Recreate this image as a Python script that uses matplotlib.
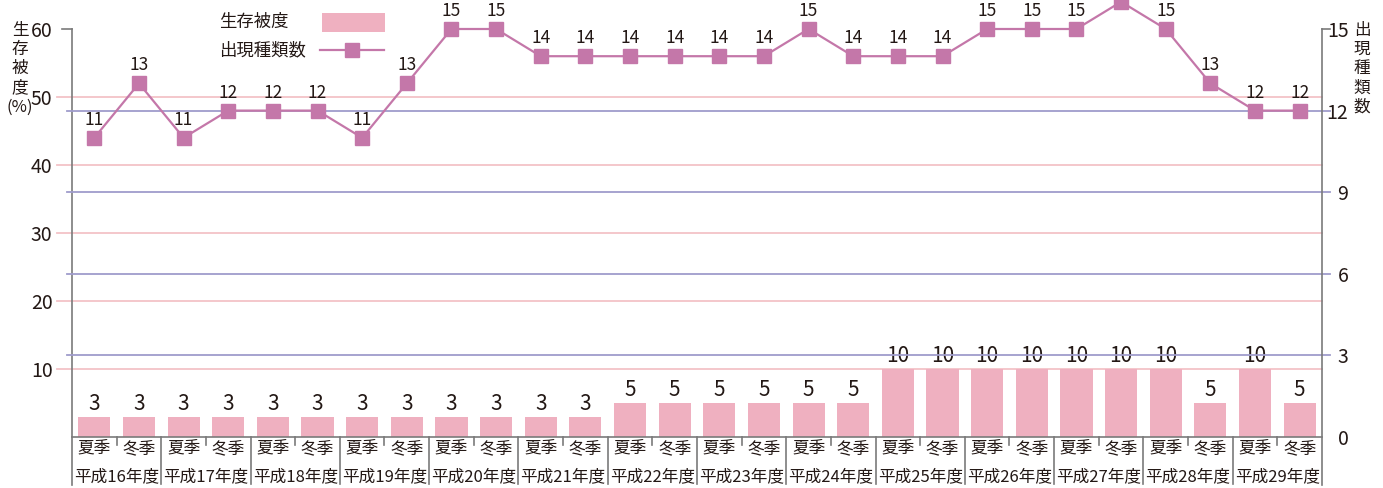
import matplotlib.pyplot as plt
from matplotlib.patches import Rectangle
from matplotlib.lines import Line2D

plt.rcParams['font.family'] = ['Liberation Sans Narrow', 'Noto Sans CJK JP', 'DejaVu Sans']

years = ['平成16年度', '平成17年度', '平成18年度', '平成19年度', '平成20年度',
         '平成21年度', '平成22年度', '平成23年度', '平成24年度', '平成25年度',
         '平成26年度', '平成27年度', '平成28年度', '平成29年度']
seasons = ['夏季', '冬季']

# 生存被度 (%) per survey
coverage = [3, 3, 3, 3, 3, 3, 3, 3, 3, 3, 3, 3,
            5, 5, 5, 5, 5, 5,
            10, 10, 10, 10, 10, 10, 10, 5, 10, 5]
# 出現種類数 per survey
species = [11, 13, 11, 12, 12, 12, 11, 13, 15, 15, 14, 14, 14, 14,
           14, 14, 15, 14, 14, 14, 15, 15, 15, 16, 15, 13, 12, 12]

left_ticks = [10, 20, 30, 40, 50, 60]
right_ticks = [0, 3, 6, 9, 12, 15]

BAR = '#EFB0C0'
LINE = '#C477A9'
PINK_GRID = '#F3C3C7'
BLUE_GRID = '#9F9CCB'
SPINE = '#7a7a7a'
TEXT = '#231815'

W, H = 1383, 488
fig = plt.figure(figsize=(W / 100, H / 100), dpi=100)
ax = fig.add_axes([72 / W, 51 / H, 1250 / W, 408 / H])
ax2 = ax.twinx()

n = len(coverage)
x = list(range(n))

ax.set_xlim(-0.5, n - 0.5)
ax.set_ylim(0, 60)
ax2.set_ylim(0, 15)

# gridlines: pink for the left scale, blue for the right scale
for v in [10, 20, 30, 40, 50]:
    ax.axhline(v, xmin=-0.012, xmax=1, color=PINK_GRID, lw=1.3, clip_on=False, zorder=0)
for v in [3, 6, 9, 12]:
    ax2.axhline(v, xmin=-0.004, xmax=1.0065, color=BLUE_GRID, lw=1.3, clip_on=False, zorder=0)

ax.bar(x, coverage, width=0.72, color=BAR, zorder=2)
for xi, v in zip(x, coverage):
    ax.annotate(str(v), (xi, v), xytext=(0, 1.5), textcoords='offset points',
                ha='center', va='bottom', fontsize=15, color=TEXT)

ax2.plot(x, species, color=LINE, lw=1.6, marker='s', ms=10, mec=LINE, mfc=LINE,
         clip_on=False, zorder=3)
for xi, v in zip(x, species):
    if v >= 16:
        ax2.annotate(str(v), (xi, v), xytext=(0, -11.5), textcoords='offset points',
                     ha='center', va='center', fontsize=14, color=TEXT)
    else:
        ax2.annotate(str(v), (xi, v), xytext=(0, 13), textcoords='offset points',
                     ha='center', va='center', fontsize=12.5, color=TEXT)

# axes styling
for a in (ax, ax2):
    for s in ('top', 'bottom'):
        a.spines[s].set_visible(False)
    a.set_xticks([])
ax.spines['right'].set_visible(False)
ax2.spines['left'].set_visible(False)
ax.spines['left'].set_color(SPINE)
ax2.spines['right'].set_color(SPINE)
ax.spines['left'].set_linewidth(1.2)
ax2.spines['right'].set_linewidth(1.2)
ax.spines['left'].set_bounds(-7, 60)
ax2.spines['right'].set_bounds(-1.75, 15)

ax.set_yticks(left_ticks)
ax.tick_params(axis='y', length=0, pad=14, labelsize=14, labelcolor=TEXT)
ax2.set_yticks(right_ticks)
ax2.tick_params(axis='y', length=0, pad=19, labelsize=14, labelcolor=TEXT)
for lab in ax2.get_yticklabels():
    lab.set_horizontalalignment('right')

# short ticks at the top of each scale
ax.plot([-0.008, 0], [60, 60], transform=ax.get_yaxis_transform(), color=SPINE,
        lw=1.2, clip_on=False)
ax2.plot([1, 1.0065], [15, 15], transform=ax2.get_yaxis_transform(), color=SPINE,
         lw=1.2, clip_on=False)

# category labels below the baseline
xt = ax.get_xaxis_transform()
for i in range(n):
    ax.text(i, -0.028, seasons[i % 2], transform=xt, ha='center', va='center',
            fontsize=12, color=TEXT)
for k, yr in enumerate(years):
    ax.text(2 * k + 0.5, -0.098, yr, transform=xt, ha='center', va='center',
            fontsize=12, color=TEXT)
    ax.plot([2 * k + 0.5] * 2, [0, -0.02], transform=xt, color=SPINE, lw=1.2,
            clip_on=False)
    if k > 0:
        ax.plot([2 * k - 0.5] * 2, [0, -0.115], transform=xt, color=SPINE, lw=1.2,
                clip_on=False)
ax.plot([-0.5, n - 0.5], [0, 0], transform=xt, color=SPINE, lw=1.2, clip_on=False)

# stacked axis titles
fig.text(20 / W, 1 - 22 / H, '生\n存\n被\n度\n(%)', ha='center', va='top',
         fontsize=12, linespacing=1.17, color=TEXT)
fig.text(1362 / W, 1 - 22 / H, '出\n現\n種\n類\n数', ha='center', va='top',
         fontsize=12, linespacing=1.17, color=TEXT)

# legend
fig.text(219 / W, 1 - 22 / H, '生存被度', ha='left', va='center', fontsize=12.5, color=TEXT)
fig.text(219 / W, 1 - 50 / H, '出現種類数', ha='left', va='center', fontsize=12.5, color=TEXT)
fig.add_artist(Rectangle((322 / W, 1 - 32 / H), 63 / W, 19 / H, transform=fig.transFigure,
                         facecolor=BAR, edgecolor='none'))
fig.add_artist(Line2D([320 / W, 384 / W], [1 - 50 / H] * 2, transform=fig.transFigure,
                      color=LINE, lw=1.6))
fig.add_artist(Line2D([352 / W], [1 - 50 / H], transform=fig.transFigure, marker='s',
                      ms=10, color=LINE, lw=0))

fig.savefig('out.png', dpi=100)
